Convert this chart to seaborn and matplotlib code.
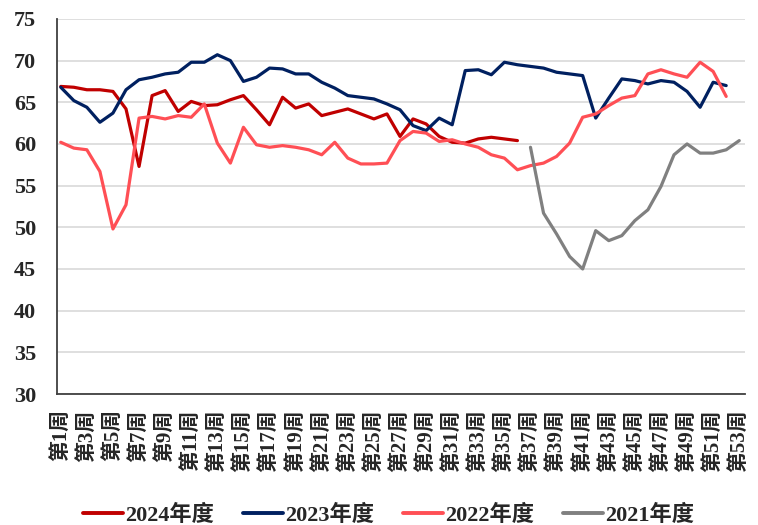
import numpy as np
import pandas as pd
import seaborn as sns
from matplotlib import pyplot as plt

weeks = [f"第{i}周" for i in range(1, 54)]

# weekly values (weeks 1..n)
y2024 = [66.9, 66.8, 66.5, 66.5, 66.3, 64.2, 57.3, 65.8, 66.4, 63.9,
         65.1, 64.6, 64.7, 65.3, 65.8, 64.1, 62.3, 65.6, 64.3, 64.8,
         63.4, 63.8, 64.2, 63.6, 63.0, 63.6, 60.9, 63.0, 62.4, 60.9,
         60.2, 60.1, 60.6, 60.8, 60.6, 60.4]
y2023 = [66.8, 65.2, 64.4, 62.6, 63.7, 66.5, 67.7, 68.0, 68.4, 68.6,
         69.8, 69.8, 70.7, 70.0, 67.5, 68.0, 69.1, 69.0, 68.4, 68.4,
         67.4, 66.7, 65.8, 65.6, 65.4, 64.8, 64.1, 62.2, 61.6, 63.1,
         62.3, 68.8, 68.9, 68.3, 69.8, 69.5, 69.3, 69.1, 68.6, 68.4,
         68.2, 63.1, 65.5, 67.8, 67.6, 67.2, 67.6, 67.4, 66.3, 64.4,
         67.4, 67.0]
y2022 = [60.2, 59.5, 59.3, 56.7, 49.8, 52.7, 63.1, 63.3, 63.0, 63.4,
         63.2, 64.8, 60.1, 57.7, 62.0, 59.9, 59.6, 59.8, 59.6, 59.3,
         58.7, 60.2, 58.3, 57.6, 57.6, 57.7, 60.4, 61.5, 61.3, 60.3,
         60.5, 60.0, 59.6, 58.7, 58.3, 56.9, 57.4, 57.7, 58.5, 60.1,
         63.2, 63.6, 64.6, 65.5, 65.8, 68.4, 68.9, 68.4, 68.0, 69.8,
         68.7, 65.7]
# 2021 starts at week 37
y2021_start = 37
y2021 = [59.6, 51.7, 49.2, 46.5, 45.0, 49.6, 48.4, 49.0, 50.8, 52.1,
         54.9, 58.7, 60.0, 58.9, 58.9, 59.3, 60.4]

series = {
    "2024年度": (1, y2024),
    "2023年度": (1, y2023),
    "2022年度": (1, y2022),
    "2021年度": (y2021_start, y2021),
}
colors = {"2024年度": "#C00000", "2023年度": "#002060",
          "2022年度": "#FF4F55", "2021年度": "#808080"}

rows = []
for name, (start, vals) in series.items():
    for i, v in enumerate(vals):
        rows.append({"week": start - 1 + i, "value": v, "year": name})
df = pd.DataFrame(rows)

sns.set_style("white")
plt.rcParams['font.family'] = ['Liberation Serif', 'Noto Sans CJK SC']
plt.rcParams['font.weight'] = 'bold'

fig = plt.figure(figsize=(7.58, 5.25), dpi=100)
ax = fig.add_axes([0.075, 0.2495, 0.908, 0.7145])

sns.lineplot(data=df, x="week", y="value", hue="year", palette=colors,
             hue_order=list(series.keys()), linewidth=2.3, ax=ax, legend=False)

ax.set_ylim(30, 75)
ax.set_yticks(np.arange(30, 76, 5))
ax.set_xlim(-0.3, 52.45)
ax.set_xticks(range(0, 53, 2))
ax.set_xticklabels(weeks[::2], rotation=90, fontsize=15, fontweight='bold')
ax.tick_params(axis='y', labelsize=16, length=0, pad=15)
ax.tick_params(axis='x', length=0, pad=11)
for lab in ax.get_yticklabels():
    lab.set_fontweight('bold')
ax.set_xlabel("")
ax.set_ylabel("")
ax.grid(axis='y', color='#D9D9D9', linewidth=1.2)
ax.set_axisbelow(True)
for s in ['top', 'right']:
    ax.spines[s].set_visible(False)
for s in ['left', 'bottom']:
    ax.spines[s].set_color('#404040')
    ax.spines[s].set_linewidth(1.3)

handles = [plt.Line2D([], [], color=colors[k], linewidth=2.8) for k in series]
fig.legend(handles, list(series.keys()), loc='lower center', ncol=4,
           frameon=False, bbox_to_anchor=(0.513, -0.04),
           prop={'size': 16, 'weight': 'bold'}, handlelength=1.8,
           handletextpad=0.1, columnspacing=1.3)

plt.savefig('out.png', dpi=100)
